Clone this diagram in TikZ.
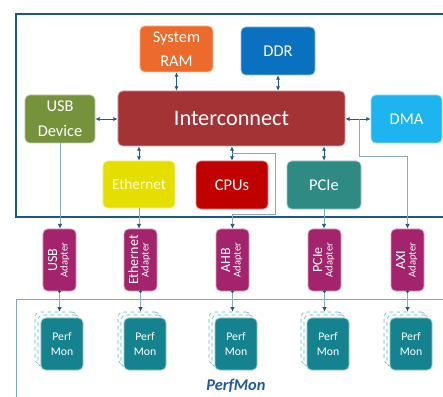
\documentclass[tikz,border=0pt]{standalone}
\usepackage{fontspec}
\setmainfont{Carlito}
\usetikzlibrary{calc,arrows.meta}
\definecolor{socframe}{HTML}{1A5A7E}
\definecolor{pmframe}{HTML}{7FA7C4}
\definecolor{linkblue}{HTML}{1F5A85}
\definecolor{wire}{HTML}{8AA8C0}
\definecolor{ramcol}{HTML}{EC6A2C}
\definecolor{ddrcol}{HTML}{0A70C0}
\definecolor{usbcol}{HTML}{76933C}
\definecolor{iccol}{HTML}{A33334}
\definecolor{dmacol}{HTML}{1EB4F0}
\definecolor{ethcol}{HTML}{E5DF00}
\definecolor{cpucol}{HTML}{C00000}
\definecolor{pciecol}{HTML}{2F8A84}
\definecolor{adcol}{HTML}{A3246C}
\definecolor{pmcol}{HTML}{14838F}
\definecolor{pmtext}{HTML}{1F5C99}
\tikzset{
	blk/.style={draw=white!55!#1, line width=0.7pt, fill=#1, rounded corners=4pt, text=white, align=center, inner sep=0pt},
	adapter/.style={blk=adcol, minimum width=0.99cm, minimum height=1.86cm},
	pm/.style={blk=pmcol, minimum width=1.26cm, minimum height=1.56cm, font=\fontsize{10}{13}\selectfont},
	pmback/.style={draw=pmcol!60, dashed, line width=0.5pt, fill=cyan!4, rounded corners=4pt, minimum width=1.26cm, minimum height=1.56cm},
	link/.style={{Latex[length=3.5pt,width=3.5pt]}-{Latex[length=3.5pt,width=3.5pt]}, draw=linkblue, line width=0.7pt},
	feed/.style={-{Latex[length=4pt,width=4pt,color=linkblue]}, draw=wire, line width=0.7pt},
}
\def\adtext#1{\rotatebox{90}{\begin{tabular}{@{}c@{}}\fontsize{12}{13}\selectfont #1\\[-3pt]\fontsize{9}{10}\selectfont Adapter\end{tabular}}}
\def\perfstack(#1)(#2){
	\node[pmback] (#1b2) at ($(#2)+(-6,-6)$) {};
	\node[pmback] (#1b1) at ($(#2)+(-3,-3)$) {};
	\node[pm] (#1) at (#2) {Perf\\Mon};
}

\begin{document}
\begin{tikzpicture}[x=0.03cm, y=-0.03cm]
			%%%%% START %%%%%
			\useasboundingbox (0,0) rectangle (443,397);
			
			\draw[socframe, line width=1.6pt] (16,14) rectangle (470,217);
			\draw[pmframe, line width=0.7pt] (16,299) rectangle (470,420);
			
			\node[blk=ramcol, minimum width=2.19cm, minimum height=1.38cm, font=\fontsize{14}{21}\selectfont] (ram) at (176.5,49) {System\\RAM};
			\node[blk=ddrcol, minimum width=2.22cm, minimum height=1.44cm, font=\fontsize{14}{21}\selectfont] (ddr) at (278,51) {DDR};
			\node[blk=usbcol, minimum width=2.10cm, minimum height=1.44cm, font=\fontsize{14}{21}\selectfont] (usb) at (60,119) {USB\\Device};
			\node[blk=iccol, minimum width=6.81cm, minimum height=1.65cm, font=\fontsize{19}{22}\selectfont] (ic) at (231.5,118.5) {Interconnect};
			\node[blk=dmacol, minimum width=2.13cm, minimum height=1.44cm, font=\fontsize{14}{21}\selectfont] (dma) at (406.5,119) {DMA};
			\node[blk=ethcol, text=white!80!yellow, minimum width=2.16cm, minimum height=1.41cm, font=\fontsize{13}{16}\selectfont] (eth) at (139,184.5) {Ethernet};
			\node[blk=cpucol, minimum width=2.16cm, minimum height=1.44cm, font=\fontsize{14}{16}\selectfont] (cpu) at (232,185) {CPUs};
			\node[blk=pciecol, minimum width=2.22cm, minimum height=1.44cm, font=\fontsize{14}{16}\selectfont] (pcie) at (324,185) {PCIe};
			
			\draw[link] (ram.south) -- (ram.south |- ic.north);
			\draw[link] (ddr.south) -- (ddr.south |- ic.north);
			\draw[link] (usb.east) -- (usb.east -| ic.west);
			\draw[link] (dma.west) -- (dma.west -| ic.east);
			\draw[link] (eth.north) -- (eth.north |- ic.south);
			\draw[link] (cpu.north) -- (cpu.north |- ic.south);
			\draw[link] (pcie.north) -- (pcie.north |- ic.south);
			
			\node[adapter] (adUSB) at (59.5,260) {\adtext{USB}};
			\node[adapter] (adETH) at (140.5,260) {\adtext{Ethernet}};
			\node[adapter] (adAHB) at (232.5,260) {\adtext{AHB}};
			\node[adapter] (adPCIE) at (324.5,260) {\adtext{PCIe}};
			\node[adapter] (adAXI) at (407.5,260) {\adtext{AXI}};
			
			\coordinate (ahbTap) at (232,153);
			\coordinate (axiTap) at (359,119);
			
			\draw[feed] (usb.south) -- (usb.south |- adUSB.north);
			\draw[feed] (eth.south) -- (eth.south |- adETH.north);
			\draw[feed] (ahbTap) -- (275,153) -- (275,214) -- (adAHB.north |- 0,214) -- (adAHB.north);
			\draw[feed] (pcie.south) -- (pcie.south |- adPCIE.north);
			\draw[feed] (axiTap) -- (axiTap |- 0,156) -- (adAXI.north |- 0,156) -- (adAXI.north);
			
			\perfstack(pmUSB)(62,344)
			\perfstack(pmETH)(145,344)
			\perfstack(pmAHB)(236,344)
			\perfstack(pmPCIE)(328,344)
			\perfstack(pmAXI)(411,344)
			
			\draw[feed] (adUSB.south) -- (adUSB.south |- pmUSBb2.north);
			\draw[feed] (adETH.south) -- (adETH.south |- pmETHb2.north);
			\draw[feed] (adAHB.south) -- (adAHB.south |- pmAHBb2.north);
			\draw[feed] (adPCIE.south) -- (adPCIE.south |- pmPCIEb2.north);
			\draw[feed] (adAXI.south) -- (adAXI.south |- pmAXIb2.north);
			\foreach \ad in {adUSB,adETH,adAHB,adPCIE,adAXI}
				\fill[linkblue] (\ad.south) circle (1.4pt);
			
			\node[text=pmtext, font=\fontsize{14}{16}\selectfont\bfseries\itshape] (pmlabel) at (236,386) {PerfMon};
			
			%%%%% END %%%%%
\end{tikzpicture}
\end{document}
